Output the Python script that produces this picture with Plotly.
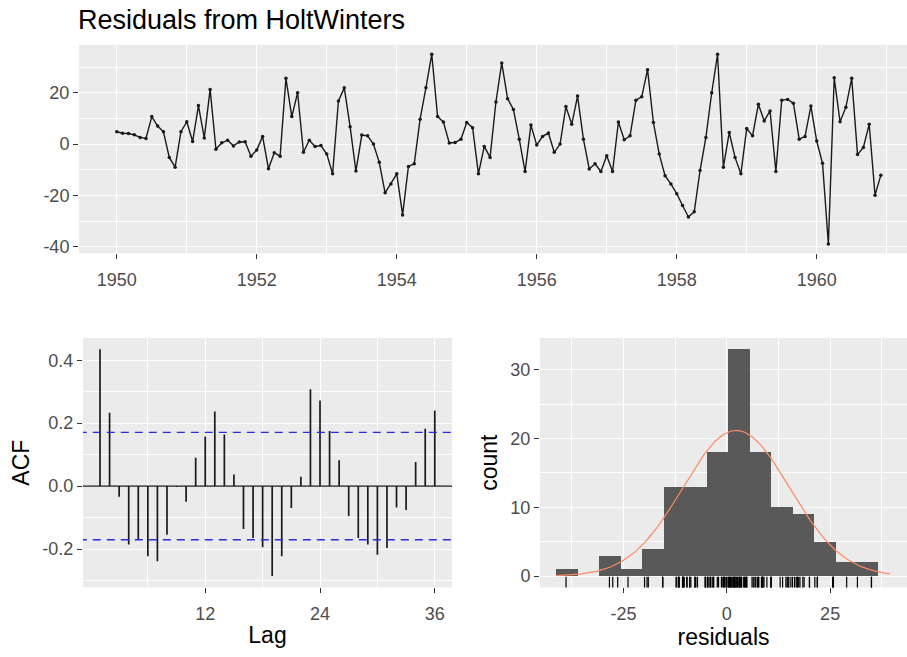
import numpy as np
import plotly.graph_objects as go

# ---------------- data ----------------
start_year = 1950
residuals = [
    4.8, 4.2, 4.1, 3.6, 2.6, 2.2, 10.7, 7.0, 4.8, -5.2, -9.0, 4.8,
    8.7, 1.0, 15.0, 2.4, 21.3, -2.0, 0.5, 1.5, -0.7, 0.8, 0.9, -4.7,
    -2.3, 3.0, -9.6, -3.4, -4.7, 25.6, 10.7, 20.0, -3.2, 1.5, -0.9, -0.6,
    -3.9, -11.6, 16.8, 21.9, 6.8, -10.5, 3.5, 3.2, 0.0, -7.1, -19.0, -15.5,
    -11.6, -27.6, -8.7, -7.7, 9.7, 21.9, 35.0, 10.7, 8.6, 0.4, 0.6, 1.9,
    8.4, 6.4, -11.6, -0.9, -5.2, 16.4, 31.6, 17.7, 13.5, 1.9, -10.7, 7.4,
    -0.4, 3.0, 4.3, -3.2, 0.0, 14.6, 7.7, 18.7, 1.9, -9.7, -7.7, -10.7,
    -4.5, -10.7, 8.6, 1.7, 3.2, 17.1, 18.4, 29.0, 8.4, -3.9, -12.3, -15.5,
    -19.3, -23.9, -28.4, -26.4, -10.3, 2.6, 20.0, 35.0, -9.0, 4.5, -5.2, -11.6,
    6.1, 3.2, 15.5, 9.0, 12.9, -10.7, 17.1, 17.4, 15.9, 1.9, 3.0, 14.8,
    1.2, -7.5, -38.9, 25.8, 8.7, 14.3, 25.6, -4.1, -1.3, 7.7, -19.9, -12.1,
]
acf_lags = list(range(1, 37))
acf_values = [
    0.435, 0.233, -0.034, -0.186, -0.170, -0.223, -0.239, -0.155, -0.003, -0.050,
    0.090, 0.158, 0.237, 0.164, 0.037, -0.136, -0.165, -0.194, -0.286, -0.223,
    -0.070, 0.030, 0.308, 0.272, 0.175, 0.082, -0.095, -0.165, -0.186, -0.218,
    -0.197, -0.068, -0.076, 0.077, 0.182, 0.240,
]
acf_conf = 0.1706
hist_bin_start = -41.3
hist_bin_width = 5.2
hist_counts = [1, 0, 3, 1, 4, 13, 13, 18, 33, 18, 10, 9, 5, 2, 2]

title_text = "Residuals from HoltWinters"
top_xticks = [1950, 1952, 1954, 1956, 1958, 1960]
top_yticks = [-40, -20, 0, 20]
acf_xticks = [12, 24, 36]
acf_yticks = [-0.2, 0.0, 0.2, 0.4]
acf_yticklabels = ["-0.2", "0.0", "0.2", "0.4"]
hist_xticks = [-25, 0, 25]
hist_yticks = [0, 10, 20, 30]

# ---------------- derived ----------------
t = [start_year + i / 12 for i in range(len(residuals))]
bin_centers = [hist_bin_start + hist_bin_width * (k + 0.5) for k in range(len(hist_counts))]
res = np.array(residuals)
mu, sd = res.mean(), res.std(ddof=1)
xc = np.linspace(hist_bin_start, res.max() + 4.5, 200)
yc = len(res) * hist_bin_width * np.exp(-0.5 * ((xc - mu) / sd) ** 2) / (sd * np.sqrt(2 * np.pi))

acf_x, acf_y = [], []
for lag, v in zip(acf_lags, acf_values):
    acf_x += [lag, lag, None]
    acf_y += [0, v, None]

W, H = 907, 657
FONT = "Liberation Sans"
PANEL = "#EBEBEB"
TICKC = "#4D4D4D"
TICKSIZE = 18
AXTITLESIZE = 23

fig = go.Figure()

# top: time series
fig.add_trace(go.Scatter(x=t, y=residuals, mode="lines+markers",
                         line=dict(color="#1a1a1a", width=1.4),
                         marker=dict(color="#1a1a1a", size=3.5),
                         xaxis="x", yaxis="y", showlegend=False))

# ACF
fig.add_trace(go.Scatter(x=acf_x, y=acf_y, mode="lines",
                         line=dict(color="#1a1a1a", width=1.7),
                         xaxis="x2", yaxis="y2", showlegend=False))
fig.add_trace(go.Scatter(x=[-10, 50], y=[0, 0], mode="lines",
                         line=dict(color="#1a1a1a", width=1.4),
                         xaxis="x2", yaxis="y2", showlegend=False))
for s in (1, -1):
    fig.add_trace(go.Scatter(x=[-10, 50], y=[s * acf_conf, s * acf_conf], mode="lines",
                             line=dict(color="#2a2ae0", width=1.3, dash="8px,6px"),
                             xaxis="x2", yaxis="y2", showlegend=False))

# histogram
fig.add_trace(go.Bar(x=bin_centers, y=hist_counts, width=hist_bin_width,
                     marker=dict(color="#595959", line=dict(width=0)),
                     xaxis="x3", yaxis="y3", showlegend=False))
fig.add_trace(go.Scatter(x=xc, y=yc, mode="lines",
                         line=dict(color="#ff8a62", width=1.2),
                         xaxis="x3", yaxis="y3", showlegend=False))
fig.add_trace(go.Scatter(x=residuals, y=[-1.0] * len(residuals), mode="markers",
                         marker=dict(symbol="line-ns-open", size=9, color="black",
                                     line=dict(width=1.2, color="black")),
                         xaxis="x3", yaxis="y3", showlegend=False))


def ax(domain, rng, tickvals, ticktext=None, minor=None, anchor=None, title=None,
       standoff=6, labelstandoff=0):
    d = dict(domain=domain, range=rng, tickmode="array", tickvals=tickvals,
             ticktext=ticktext if ticktext else [str(v) for v in tickvals],
             showgrid=True, gridcolor="white", gridwidth=1.1,
             zeroline=False, showline=False,
             ticks="outside", ticklen=5, tickwidth=1, tickcolor="#333333",
             tickfont=dict(family=FONT, size=TICKSIZE, color=TICKC),
             ticklabelstandoff=labelstandoff,
             anchor=anchor, fixedrange=True)
    if minor is not None:
        d["minor"] = dict(tickmode="array", tickvals=minor, showgrid=True,
                          gridcolor="white", gridwidth=0.5, ticks="")
    if title:
        d["title"] = dict(text=title, font=dict(family=FONT, size=AXTITLESIZE, color="black"),
                          standoff=standoff)
    return d


fx = lambda p: p / W
fy = lambda p: 1 - p / H

fig.update_layout(
    width=W, height=H, margin=dict(l=0, r=0, t=0, b=0),
    paper_bgcolor="white", plot_bgcolor=PANEL,
    font=dict(family=FONT),
    bargap=0,
    title=dict(text=title_text, x=fx(78), xanchor="left", y=fy(20), yanchor="middle",
               font=dict(family=FONT, size=27, color="black")),
    xaxis=ax([fx(79), 1], [1949.46, 1961.29], top_xticks,
             minor=[1949, 1951, 1953, 1955, 1957, 1959, 1961], anchor="y", labelstandoff=5),
    yaxis=ax([fy(255), fy(45)], [-42.6, 38.7], top_yticks,
             minor=[-30, -10, 10, 30], anchor="x"),
    xaxis2=ax([fx(83), fx(452)], [-0.78, 37.8], acf_xticks,
              minor=[6, 18, 30], anchor="y2", title="Lag", standoff=3, labelstandoff=5),
    yaxis2=ax([fy(591), fy(340)], [-0.322, 0.471], acf_yticks,
              ticktext=acf_yticklabels,
              minor=[-0.3, -0.1, 0.1, 0.3], anchor="x2", title="ACF", standoff=6),
    xaxis3=ax([fx(540), 1], [-45.2, 43.6], hist_xticks,
              minor=[-37.5, -12.5, 12.5, 37.5], anchor="y3", title="residuals",
              standoff=3, labelstandoff=5),
    yaxis3=ax([fy(591), fy(340)], [-1.65, 34.65], hist_yticks,
              minor=[5, 15, 25], anchor="x3", title="count", standoff=6),
)

fig.write_html("out.html")
